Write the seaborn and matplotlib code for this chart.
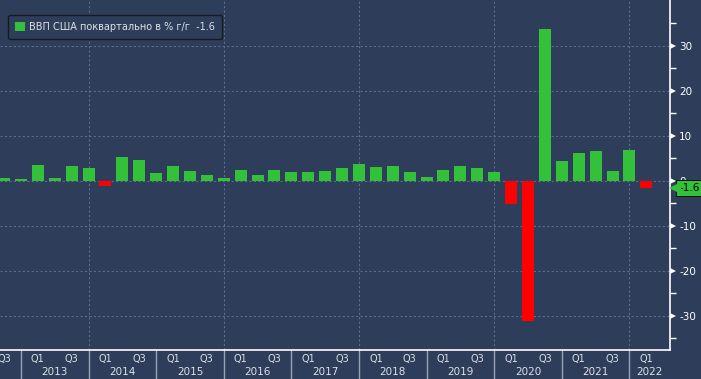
import matplotlib
matplotlib.use("Agg")
import matplotlib.pyplot as plt
import seaborn as sns
import pandas as pd
from matplotlib.patches import Patch

# Quarterly US GDP, % q/q annualised (Q3 2012 .. Q1 2022)
years = [2012, 2012] + [y for y in range(2013, 2022) for _ in range(4)] + [2022]
qtrs = ["Q3", "Q4"] + ["Q1", "Q2", "Q3", "Q4"] * 9 + ["Q1"]
gdp = [0.6, 0.4,
       3.6, 0.7, 3.3, 2.9,
       -1.2, 5.3, 4.7, 1.8,
       3.3, 2.2, 1.3, 0.7,
       2.4, 1.3, 2.4, 2.0,
       2.0, 2.2, 2.9, 3.8,
       3.1, 3.3, 2.0, 0.9,
       2.4, 3.3, 2.9, 2.0,
       -5.1, -31.2, 33.8, 4.4,
       6.2, 6.7, 2.2, 6.9,
       -1.6]
year_labels = list(range(2013, 2023))
legend_label = "ВВП США поквартально в % г/г  -1.6"

bg = "#2E3D59"
green = "#33C13A"
red = "#FF0000"
gridc = "#5B6C8A"
sepc = "#9AA3B5"
txtc = "#DDE1E8"

sns.set_theme(style="dark", rc={"axes.facecolor": bg, "figure.facecolor": bg})
plt.rcParams["font.family"] = ["DejaVu Sans"]
plt.rcParams["axes.unicode_minus"] = False

labels = [f"{y} {q}" for y, q in zip(years, qtrs)]
df = pd.DataFrame({"quarter": labels, "gdp": gdp,
                   "sign": ["pos" if v >= 0 else "neg" for v in gdp]})

fig, ax = plt.subplots(figsize=(7.01, 3.79), dpi=100)
fig.subplots_adjust(left=0, right=670 / 701, bottom=29 / 379, top=1)

sns.barplot(data=df, x="quarter", y="gdp", hue="sign", order=labels,
            palette={"pos": green, "neg": red}, dodge=False, width=0.71,
            saturation=1, linewidth=0, legend=False, ax=ax)

ax.set_xlim(-0.237, 39.4)
ax.set_ylim(-37.6, 40.2)
ax.set_xlabel("")
ax.set_ylabel("")
ax.set_xticks([])

# right axis
ax.yaxis.tick_right()
ax.set_yticks(range(-30, 31, 10))
ax.set_yticks(range(-35, 40, 10), minor=True)
ax.tick_params(axis="y", which="major", colors="white", labelsize=7.5,
               length=0, pad=6.5)
ax.tick_params(axis="y", which="minor", colors="white", length=4, width=1,
               direction="out")
for s in ["top", "left"]:
    ax.spines[s].set_visible(False)
for s in ["right", "bottom"]:
    ax.spines[s].set_color("white")
    ax.spines[s].set_linewidth(1.2)

ytr = ax.get_yaxis_transform()
xtr = ax.get_xaxis_transform()
for yv in range(-30, 31, 10):
    ax.axhline(yv, color=gridc, ls=(0, (2, 2)), lw=0.8, zorder=0)
    ax.plot(1.0 + 3 / 670, yv, marker=">", ms=5, color="white", mew=0,
            transform=ytr, clip_on=False)

# year dividers: they sit on the Q4 bar of the previous year
dividers = [i for i, q in enumerate(qtrs) if q == "Q4"]
for k, d in enumerate(dividers):
    if k % 2 == 1:
        ax.axvline(d, color=gridc, ls=(0, (2, 2)), lw=0.8, zorder=0)
    ax.plot([d, d], [0, -29 / 350], transform=xtr, clip_on=False,
            color=sepc, lw=1)

# quarter labels (Q1 / Q3 only) and year labels
for i, q in enumerate(qtrs):
    if q in ("Q1", "Q3"):
        ax.text(i, -9 / 350, q, transform=xtr, ha="center", va="center",
                fontsize=7, color=txtc, clip_on=False)
xmax = ax.get_xlim()[1]
for d, yl in zip(dividers, year_labels):
    xc = min(d + 2, (d + xmax) / 2)
    ax.text(xc, -22 / 350, str(yl), transform=xtr, ha="center", va="center",
            fontsize=7.5, color=txtc, clip_on=False)

# last value tag
ax.plot(1.0 + 5 / 670, gdp[-1], marker="<", ms=9, color=green, mew=0,
        transform=ytr, clip_on=False, zorder=5)
ax.text(1.0 + 9 / 670, gdp[-1], f"{gdp[-1]:.1f}", transform=ytr,
        ha="left", va="center", fontsize=7.5, color="black", zorder=4,
        bbox=dict(boxstyle="square,pad=0.3", fc=green, ec="black", lw=0.6))

leg = ax.legend(handles=[Patch(facecolor=green, edgecolor="none")],
                labels=[legend_label], loc="upper left",
                bbox_to_anchor=(8 / 670, 1 - 15 / 350), borderaxespad=0,
                frameon=True, facecolor=bg, edgecolor="#151A24", framealpha=1,
                fancybox=True, fontsize=7, labelcolor=txtc, handlelength=1.0,
                handleheight=1.0, handletextpad=0.5, borderpad=0.7)

fig.savefig("out.png", dpi=100, facecolor=bg)
